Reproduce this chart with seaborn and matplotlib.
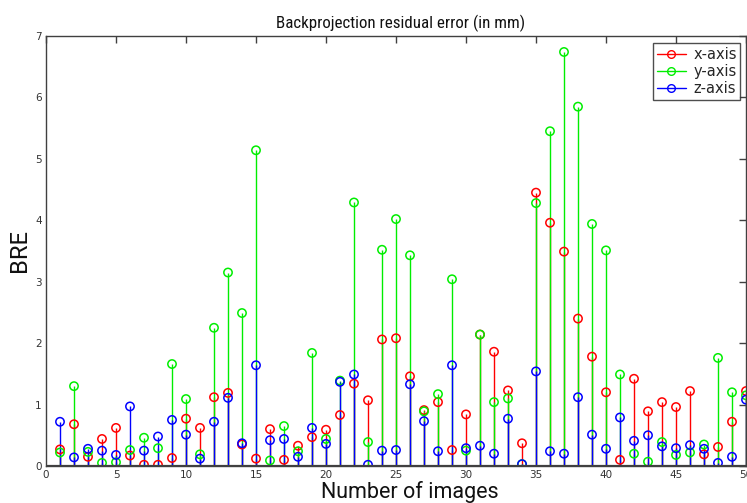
import matplotlib
matplotlib.use("Agg")

import matplotlib.pyplot as plt
import numpy as np
import pandas as pd
import seaborn as sns
from matplotlib.legend_handler import HandlerLine2D
from matplotlib.lines import Line2D

# ---------------------------------------------------------------------------
# Data
# ---------------------------------------------------------------------------
images = list(range(1, 51))

x_axis = [0.27, 0.68, 0.15, 0.44, 0.62, 0.17, 0.02, 0.02, 0.13, 0.77,
          0.62, 1.12, 1.19, 0.35, 0.12, 0.60, 0.10, 0.33, 0.47, 0.59,
          0.83, 1.34, 1.07, 2.06, 2.08, 1.46, 0.91, 1.04, 0.26, 0.84,
          2.14, 1.86, 1.23, 0.37, 4.45, 3.96, 3.49, 2.40, 1.78, 1.20,
          0.10, 1.42, 0.89, 1.04, 0.96, 1.22, 0.19, 0.31, 0.72, 1.22]

y_axis = [0.22, 1.30, 0.23, 0.05, 0.06, 0.26, 0.46, 0.29, 1.66, 1.09,
          0.19, 2.25, 3.15, 2.49, 5.14, 0.09, 0.65, 0.24, 1.84, 0.44,
          1.39, 4.29, 0.39, 3.52, 4.02, 3.43, 0.89, 1.17, 3.04, 0.25,
          2.14, 1.04, 1.10, 0.03, 4.28, 5.45, 6.74, 5.85, 3.94, 3.51,
          1.49, 0.20, 0.07, 0.39, 0.18, 0.22, 0.35, 1.76, 1.20, 1.15]

z_axis = [0.72, 0.14, 0.28, 0.25, 0.18, 0.97, 0.25, 0.48, 0.75, 0.51,
          0.12, 0.72, 1.11, 0.37, 1.64, 0.42, 0.44, 0.15, 0.62, 0.36,
          1.37, 1.49, 0.02, 0.25, 0.26, 1.33, 0.73, 0.24, 1.64, 0.29,
          0.33, 0.20, 0.77, 0.03, 1.54, 0.24, 0.20, 1.12, 0.51, 0.28,
          0.79, 0.41, 0.50, 0.32, 0.29, 0.34, 0.28, 0.05, 0.15, 1.08]

series_names = ["x-axis", "y-axis", "z-axis"]
series_colors = ["#ff0000", "#00ee00", "#0000ff"]

df = pd.DataFrame({
    "image": images * 3,
    "BRE": x_axis + y_axis + z_axis,
    "axis": np.repeat(series_names, len(images)),
})

CHROME = "#404040"
NARROW = ["Roboto Condensed", "Liberation Sans Narrow", "Roboto", "DejaVu Sans"]


class _EndMarker(HandlerLine2D):
    # MATLAB-style legend entry: line with the marker at its right end
    def get_xdata(self, legend, xdescent, ydescent, width, height, fontsize):
        xdata = np.array([-xdescent, -xdescent + width])
        return xdata, np.array([-xdescent + width * 0.85])


sns.set_style("white")
plt.rcParams["font.family"] = ["DejaVu Sans"]

fig = plt.figure(figsize=(7.47, 5.03), dpi=100)
ax = fig.add_axes([46 / 747, 37 / 503, 700 / 747, 430 / 503])

# stems, then hollow circle heads (drawn per series so z ends on top)
for name, color in zip(series_names, series_colors):
    sub = df[df["axis"] == name]
    ax.vlines(sub["image"], 0, sub["BRE"], color=color, linewidth=1.0, zorder=2)
    sns.scatterplot(
        data=sub, x="image", y="BRE", ax=ax, marker="o", s=36,
        facecolors="none", edgecolor=color, linewidth=1.1, zorder=3, legend=False,
    )

ax.axhline(0, color=CHROME, linewidth=1.6, zorder=4)

ax.set_xlim(0, 50)
ax.set_ylim(0, 7)
ax.set_xticks(range(0, 51, 5))
ax.set_yticks(range(0, 8))

for side in ["top", "right", "left", "bottom"]:
    ax.spines[side].set_visible(True)
    ax.spines[side].set_color(CHROME)
    ax.spines[side].set_linewidth(1.0)

ax.tick_params(direction="in", length=5, width=1, colors=CHROME,
               labelsize=7.5, top=True, right=True, labelcolor="#333333", pad=3)

ax.set_title("Backprojection residual error (in mm)", family=NARROW,
             fontsize=12.2, color="#111111", pad=6, x=0.507, fontstretch="condensed")
ax.set_xlabel("Number of images", family=["Roboto", "DejaVu Sans"],
              fontsize=15.5, color="#111111")
ax.xaxis.set_label_coords(0.52, -0.034)
ax.set_ylabel("BRE", family=["Roboto", "DejaVu Sans"], fontsize=17, color="#111111")
ax.yaxis.set_label_coords(-0.021, 0.5)

handles = [
    Line2D([0], [0], color=c, linewidth=1.0, marker="o", markersize=5.5,
           markerfacecolor="none", markeredgecolor=c)
    for c in series_colors
]
leg = ax.legend(handles, series_names, loc="upper right", bbox_to_anchor=(0.992, 0.983),
                fontsize=10.5, frameon=True, fancybox=False, handlelength=2.0,
                borderpad=0.25, labelspacing=0.15, handletextpad=0.5,
                borderaxespad=0.0, numpoints=1,
                handler_map={Line2D: _EndMarker()})
leg.get_frame().set_edgecolor("#222222")
leg.get_frame().set_linewidth(1.0)

fig.savefig("out.png", dpi=100, facecolor="white")
